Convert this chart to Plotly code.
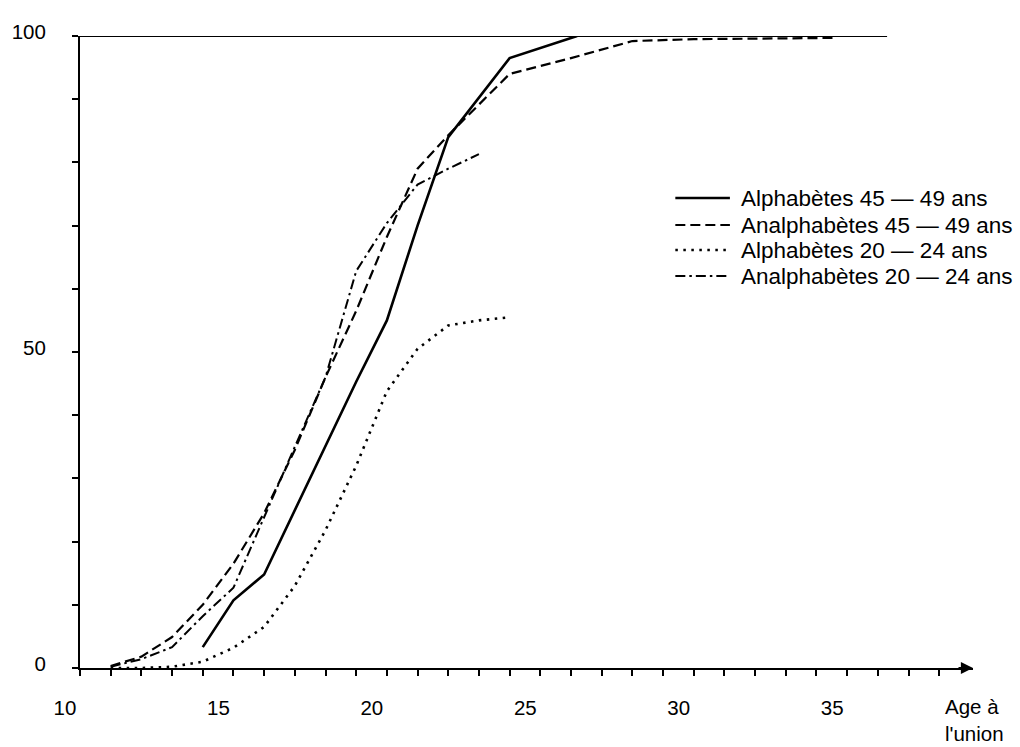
import plotly.graph_objects as go

# Âge à l'union (années) et proportion cumulée de femmes en union (%)
age_alpha_45 = [14, 15, 16, 17, 18, 19, 20, 21, 22, 24, 26.2]
pct_alpha_45 = [3.3, 10.7, 14.8, 25, 35.3, 45.3, 55, 70, 84, 96.5, 100]

age_analpha_45 = [11, 12, 13, 14, 15, 16, 17, 18, 19, 20, 21, 22, 24, 26, 28, 30, 34.6]
pct_analpha_45 = [0.3, 1.8, 4.9, 10, 16.5, 24.5, 34.5, 46, 56.5, 68.2, 79, 84.3, 94, 96.5, 99.2, 99.5, 99.7]

age_alpha_20 = [11, 12, 13, 14, 15, 16, 17, 18, 19, 20, 21, 22, 23, 24]
pct_alpha_20 = [0, 0, 0.2, 1, 3.2, 6.5, 13, 21.8, 32, 43.8, 50.5, 54.2, 55, 55.5]

age_analpha_20 = [11, 12, 13, 14, 15, 16, 17, 18, 19, 20, 21, 22, 23]
pct_analpha_20 = [0.2, 1.4, 3.3, 8.2, 12.7, 23.9, 35, 46, 62.8, 70.4, 76.5, 79, 81.3]

series_names = [
    "Alphabètes 45 — 49 ans",
    "Analphabètes 45 — 49 ans",
    "Alphabètes 20 — 24 ans",
    "Analphabètes 20 — 24 ans",
]

x_tick_values = list(range(10, 39))
x_tick_labels = [str(v) if v % 5 == 0 else "" for v in x_tick_values]
y_tick_values = list(range(0, 101, 10))
y_tick_labels = [str(v) if v % 50 == 0 else "" for v in y_tick_values]

INK = "#000000"
FONT = "Liberation Sans, Arial, sans-serif"

# line styles: width and dash pattern per series
styles = [
    dict(width=2.6, dash="solid"),
    dict(width=2.2, dash="10px,5px"),
    dict(width=2.6, dash="2.5px,5.5px"),
    dict(width=2.0, dash="10px,4px,2.5px,4px"),
]

ages = [age_alpha_45, age_analpha_45, age_alpha_20, age_analpha_20]
pcts = [pct_alpha_45, pct_analpha_45, pct_alpha_20, pct_analpha_20]

fig = go.Figure()
for name, xs, ys, st in zip(series_names, ages, pcts, styles):
    fig.add_trace(go.Scatter(
        x=xs, y=ys, mode="lines", name=name, showlegend=False,
        line=dict(color=INK, width=st["width"], dash=st["dash"]),
    ))

# plot geometry (pixels)
W, H = 1020, 747
L, R, T, B = 73, 47, 36, 79
PW, PH = W - L - R, H - T - B


def px_to_paper_x(px):
    return (px - L) / PW


def px_to_paper_y(py):
    return (H - B - py) / PH


shapes = []
annotations = []

# 100 % reference line along the top
shapes.append(dict(type="line", xref="x", yref="y", x0=10, x1=36.3, y0=100, y1=100,
                   line=dict(color=INK, width=2)))

# hand-built legend: sample line + label
legend_rows_px = [198, 225, 250, 276]
for name, st, ypx in zip(series_names, styles, legend_rows_px):
    yp = px_to_paper_y(ypx)
    shapes.append(dict(type="line", xref="paper", yref="paper",
                       x0=px_to_paper_x(673), x1=px_to_paper_x(728), y0=yp, y1=yp,
                       line=dict(color=INK, width=st["width"], dash=st["dash"])))
    annotations.append(dict(xref="paper", yref="paper", x=px_to_paper_x(737), y=yp,
                            xanchor="left", yanchor="middle", showarrow=False,
                            text=name, font=dict(family=FONT, size=22.5, color=INK)))

# arrow head on the age axis
annotations.append(dict(xref="x", yref="y", x=39.1, y=0, ax=-16, ay=0,
                        text="", showarrow=True, arrowhead=2, arrowsize=1.1,
                        arrowwidth=2.2, arrowcolor=INK, standoff=0))

# axis title
annotations.append(dict(xref="paper", yref="paper", x=px_to_paper_x(943),
                        y=px_to_paper_y(693), xanchor="left", yanchor="top",
                        align="left", showarrow=False, text="Age à<br>l'union",
                        font=dict(family=FONT, size=20.5, color=INK)))

fig.update_layout(
    width=W, height=H,
    margin=dict(l=L, r=R, t=T, b=B, pad=0),
    paper_bgcolor="white", plot_bgcolor="white",
    font=dict(family=FONT, size=20, color=INK),
    shapes=shapes, annotations=annotations,
    xaxis=dict(range=[10, 39.1], showgrid=False, zeroline=False,
               showline=True, linecolor=INK, linewidth=2,
               ticks="outside", ticklen=6, tickwidth=1.5, tickcolor=INK,
               tickvals=x_tick_values, ticktext=x_tick_labels,
               ticklabelstandoff=14, ticklabelshift=-15,
               tickfont=dict(family=FONT, size=20.5, color=INK)),
    yaxis=dict(range=[0, 100], showgrid=False, zeroline=False,
               showline=True, linecolor=INK, linewidth=2,
               ticks="outside", ticklen=6, tickwidth=1.5, tickcolor=INK,
               tickvals=y_tick_values, ticktext=y_tick_labels,
               ticklabelstandoff=22, ticklabelshift=-4,
               tickfont=dict(family=FONT, size=20.5, color=INK)),
)

fig.write_html("out.html")
